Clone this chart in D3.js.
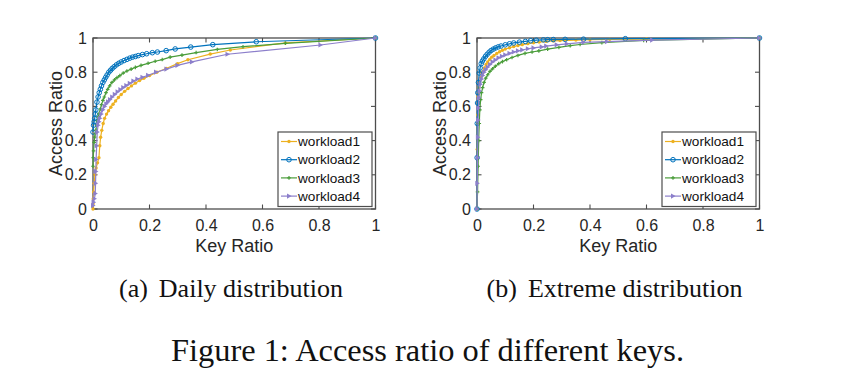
<!DOCTYPE html>
<html><head><meta charset="utf-8">
<script src="https://cdn.jsdelivr.net/npm/d3@7"></script>
<style>
html,body{margin:0;padding:0;background:#fff;}
svg{display:block;}
</style></head>
<body>
<svg id="chart" width="852" height="388"></svg>
<script>
// ---------- data ----------
const seriesNames = ["workload1", "workload2", "workload3", "workload4"];
const tickValues = [0, 0.2, 0.4, 0.6, 0.8, 1];
const tickLabels = ["0", "0.2", "0.4", "0.6", "0.8", "1"];
const panelCaptions = [["(a)", "Daily distribution"], ["(b)", "Extreme distribution"]];
const figureCaption = "Figure 1: Access ratio of different keys.";

// (a) Daily distribution
const dailyW1X = [0,0.0005,0.001,0.002,0.004,0.007,0.011,0.016,0.021,0.024,0.027,0.031,0.036,0.041,0.048,0.055,0.063,0.071,0.08,0.09,0.1,0.112,0.124,0.136,0.15,0.165,0.18,0.2,0.226,0.259,0.299,0.336,0.415,0.486,0.681,1];
const dailyW1Y = [0,0.03,0.06,0.10,0.15,0.20,0.24,0.27,0.30,0.37,0.42,0.46,0.50,0.53,0.555,0.575,0.595,0.613,0.632,0.652,0.67,0.688,0.705,0.72,0.736,0.751,0.764,0.78,0.80,0.822,0.85,0.873,0.906,0.93,0.971,1];
const dailyW2X = [0,0.002,0.004,0.006,0.008,0.01,0.014,0.018,0.022,0.026,0.03,0.035,0.04,0.045,0.05,0.056,0.062,0.068,0.075,0.083,0.091,0.1,0.11,0.12,0.13,0.14,0.15,0.16,0.175,0.19,0.21,0.228,0.259,0.291,0.346,0.424,0.578,1];
const dailyW2Y = [0.45,0.49,0.51,0.53,0.555,0.58,0.625,0.655,0.68,0.70,0.72,0.74,0.755,0.77,0.784,0.80,0.811,0.822,0.832,0.843,0.852,0.86,0.868,0.875,0.882,0.888,0.892,0.897,0.903,0.908,0.914,0.918,0.926,0.936,0.947,0.961,0.978,1];
const dailyW3X = [0,0.001,0.002,0.004,0.006,0.008,0.01,0.013,0.016,0.019,0.022,0.026,0.03,0.035,0.04,0.046,0.052,0.059,0.067,0.076,0.085,0.095,0.107,0.12,0.135,0.15,0.17,0.195,0.22,0.245,0.273,0.315,0.365,0.44,0.531,0.681,1];
const dailyW3Y = [0.25,0.30,0.34,0.39,0.42,0.44,0.46,0.49,0.515,0.54,0.56,0.585,0.61,0.635,0.655,0.68,0.70,0.72,0.74,0.755,0.768,0.78,0.795,0.807,0.818,0.828,0.84,0.852,0.864,0.874,0.888,0.90,0.915,0.933,0.949,0.969,1];
const dailyW4X = [0,0.002,0.005,0.008,0.009,0.01,0.011,0.013,0.015,0.018,0.021,0.024,0.029,0.035,0.041,0.047,0.053,0.06,0.068,0.077,0.087,0.097,0.107,0.118,0.13,0.143,0.157,0.175,0.195,0.223,0.26,0.299,0.35,0.476,0.805,1];
const dailyW4Y = [0.02,0.04,0.06,0.09,0.15,0.22,0.29,0.37,0.45,0.49,0.51,0.53,0.555,0.58,0.60,0.615,0.627,0.64,0.655,0.67,0.685,0.698,0.71,0.722,0.735,0.748,0.76,0.77,0.782,0.80,0.818,0.84,0.86,0.905,0.959,1];

// (b) Extreme distribution
const extW1X = [0,0.001,0.002,0.004,0.006,0.009,0.013,0.017,0.021,0.026,0.032,0.038,0.045,0.052,0.06,0.07,0.08,0.09,0.1,0.115,0.13,0.145,0.16,0.18,0.2,0.22,0.245,0.27,0.294,0.35,0.4,0.47,0.6,1];
const extW1Y = [0,0.35,0.55,0.66,0.71,0.745,0.77,0.79,0.805,0.825,0.845,0.86,0.875,0.888,0.898,0.91,0.92,0.928,0.935,0.943,0.95,0.956,0.961,0.967,0.972,0.976,0.98,0.983,0.985,0.988,0.991,0.992,0.994,1];
const extW2X = [0,0.0005,0.001,0.002,0.003,0.005,0.008,0.011,0.015,0.019,0.024,0.03,0.036,0.043,0.05,0.058,0.066,0.075,0.085,0.1,0.115,0.13,0.15,0.171,0.19,0.21,0.235,0.25,0.27,0.312,0.377,0.525,1];
const extW2Y = [0,0.3,0.5,0.62,0.68,0.74,0.795,0.825,0.85,0.865,0.878,0.893,0.905,0.917,0.927,0.935,0.942,0.948,0.953,0.96,0.966,0.971,0.976,0.98,0.984,0.987,0.989,0.99,0.991,0.992,0.993,0.996,1];
const extW3X = [0,0.002,0.004,0.006,0.008,0.01,0.013,0.016,0.02,0.025,0.031,0.038,0.046,0.055,0.065,0.077,0.09,0.105,0.124,0.145,0.17,0.195,0.219,0.25,0.29,0.33,0.365,0.442,0.59,1];
const extW3Y = [0,0.1,0.25,0.4,0.5,0.58,0.64,0.68,0.71,0.74,0.765,0.785,0.805,0.82,0.835,0.85,0.862,0.873,0.886,0.898,0.91,0.918,0.925,0.935,0.945,0.955,0.962,0.973,0.986,1];
const extW4X = [0,0.001,0.002,0.003,0.004,0.005,0.007,0.009,0.012,0.016,0.02,0.025,0.031,0.038,0.046,0.055,0.065,0.076,0.088,0.1,0.115,0.13,0.145,0.16,0.18,0.2,0.229,0.245,0.282,0.318,0.377,0.46,0.62,1];
const extW4Y = [0,0.15,0.3,0.42,0.52,0.59,0.65,0.69,0.73,0.76,0.78,0.80,0.815,0.83,0.845,0.86,0.872,0.884,0.893,0.901,0.91,0.918,0.925,0.93,0.937,0.942,0.948,0.953,0.96,0.966,0.974,0.979,0.988,1];

const colors = ["#EDB120", "#0072BD", "#4a9d3a", "#8c7fcb"];

// ---------- layout ----------
const svg = d3.select("#chart");
const panels = [
  {left: 93, top: 38, series: [[dailyW1X, dailyW1Y], [dailyW2X, dailyW2Y], [dailyW3X, dailyW3Y], [dailyW4X, dailyW4Y]], cap: panelCaptions[0], capX: 231},
  {left: 477, top: 38, series: [[extW1X, extW1Y], [extW2X, extW2Y], [extW3X, extW3Y], [extW4X, extW4Y]], cap: panelCaptions[1], capX: 614.5}
];
const W = 282.5, H = 171;
const axisColor = "#262626";
const frameColor = "#4d4d4d";
const sans = "'Liberation Sans', Arial, Helvetica, sans-serif";
const serif = "'Liberation Serif', 'Times New Roman', serif";

function drawMarker(sel, k, color) {
  if (k === 0) {
    sel.append("circle").attr("r", 1.7).attr("fill", color);
  } else if (k === 1) {
    sel.append("circle").attr("r", 2.3).attr("fill", "none").attr("stroke", color).attr("stroke-width", 1);
  } else if (k === 2) {
    sel.append("path").attr("d", "M-1.8,0H1.8M0,-1.8V1.8").attr("stroke", color).attr("stroke-width", 1.2);
  } else {
    sel.append("path").attr("d", "M-2,-2.6L2.6,0L-2,2.6Z").attr("fill", color);
  }
}

panels.forEach(p => {
  const g = svg.append("g").attr("transform", `translate(${p.left},${p.top})`);
  const x = d3.scaleLinear().domain([0, 1]).range([0, W]);
  const y = d3.scaleLinear().domain([0, 1]).range([H, 0]);

  g.append("rect").attr("x", 0).attr("y", 0).attr("width", W).attr("height", H)
    .attr("fill", "none").attr("stroke", frameColor).attr("stroke-width", 1.3);

  const tg = g.append("g").attr("stroke", frameColor).attr("stroke-width", 1.1);
  tickValues.forEach(v => {
    tg.append("line").attr("x1", x(v)).attr("x2", x(v)).attr("y1", H).attr("y2", H - 4.5);
    tg.append("line").attr("x1", x(v)).attr("x2", x(v)).attr("y1", 0).attr("y2", 4.5);
    tg.append("line").attr("y1", y(v)).attr("y2", y(v)).attr("x1", 0).attr("x2", 4.5);
    tg.append("line").attr("y1", y(v)).attr("y2", y(v)).attr("x1", W).attr("x2", W - 4.5);
  });

  const xAxis = d3.axisBottom(x).tickValues(tickValues).tickFormat((d, i) => tickLabels[i]).tickSize(0).tickPadding(11);
  const gx = g.append("g").attr("transform", `translate(0,${H})`).call(xAxis);
  gx.select(".domain").remove();
  gx.selectAll("text").attr("font-family", sans).attr("font-size", 16).attr("fill", axisColor);

  const yAxis = d3.axisLeft(y).tickValues(tickValues).tickFormat((d, i) => tickLabels[i]).tickSize(0).tickPadding(6);
  const gy = g.append("g").call(yAxis);
  gy.select(".domain").remove();
  gy.selectAll("text").attr("font-family", sans).attr("font-size", 16).attr("fill", axisColor);

  g.append("text").attr("x", W / 2).attr("y", H + 43).attr("text-anchor", "middle")
    .attr("font-family", sans).attr("font-size", 18).attr("fill", axisColor).text("Key Ratio");
  g.append("text").attr("transform", `translate(-31,${H / 2}) rotate(-90)`).attr("text-anchor", "middle")
    .attr("font-family", sans).attr("font-size", 18).attr("fill", axisColor).text("Access Ratio");

  const line = d3.line().x(d => x(d[0])).y(d => y(d[1]));
  p.series.forEach((s, k) => {
    const pts = s[0].map((xv, i) => [xv, s[1][i]]);
    g.append("path").datum(pts).attr("d", line).attr("fill", "none")
      .attr("stroke", colors[k]).attr("stroke-width", 1.2);
    g.append("g").selectAll("g").data(pts).join("g")
      .attr("transform", d => `translate(${x(d[0])},${y(d[1])})`)
      .each(function () { drawMarker(d3.select(this), k, colors[k]); });
  });

  const lg = g.append("g").attr("transform", `translate(${W - 97.5},${H - 77})`);
  lg.append("rect").attr("width", 94).attr("height", 74.5).attr("fill", "#fff")
    .attr("stroke", frameColor).attr("stroke-width", 1.2);
  seriesNames.forEach((name, k) => {
    const row = lg.append("g").attr("transform", `translate(0,${9.5 + k * 18.2})`);
    row.append("line").attr("x1", 3).attr("x2", 19).attr("y1", 0).attr("y2", 0)
      .attr("stroke", colors[k]).attr("stroke-width", 1.2);
    drawMarker(row.append("g").attr("transform", "translate(11,0)"), k, colors[k]);
    row.append("text").attr("x", 20).attr("y", 0).attr("dy", "0.35em")
      .attr("font-family", sans).attr("font-size", 13.6).attr("fill", "#111").text(name);
  });

  const ct = svg.append("text").attr("x", p.capX).attr("y", 297).attr("text-anchor", "middle")
    .attr("font-family", serif).attr("font-size", 26).attr("fill", "#111");
  ct.append("tspan").text(p.cap[0]);
  ct.append("tspan").attr("dx", 11).text(p.cap[1]);
});

svg.append("text").attr("x", 427.5).attr("y", 361).attr("text-anchor", "middle")
  .attr("font-family", serif).attr("font-size", 32.4).attr("fill", "#111").text(figureCaption);
</script>
</body></html>
